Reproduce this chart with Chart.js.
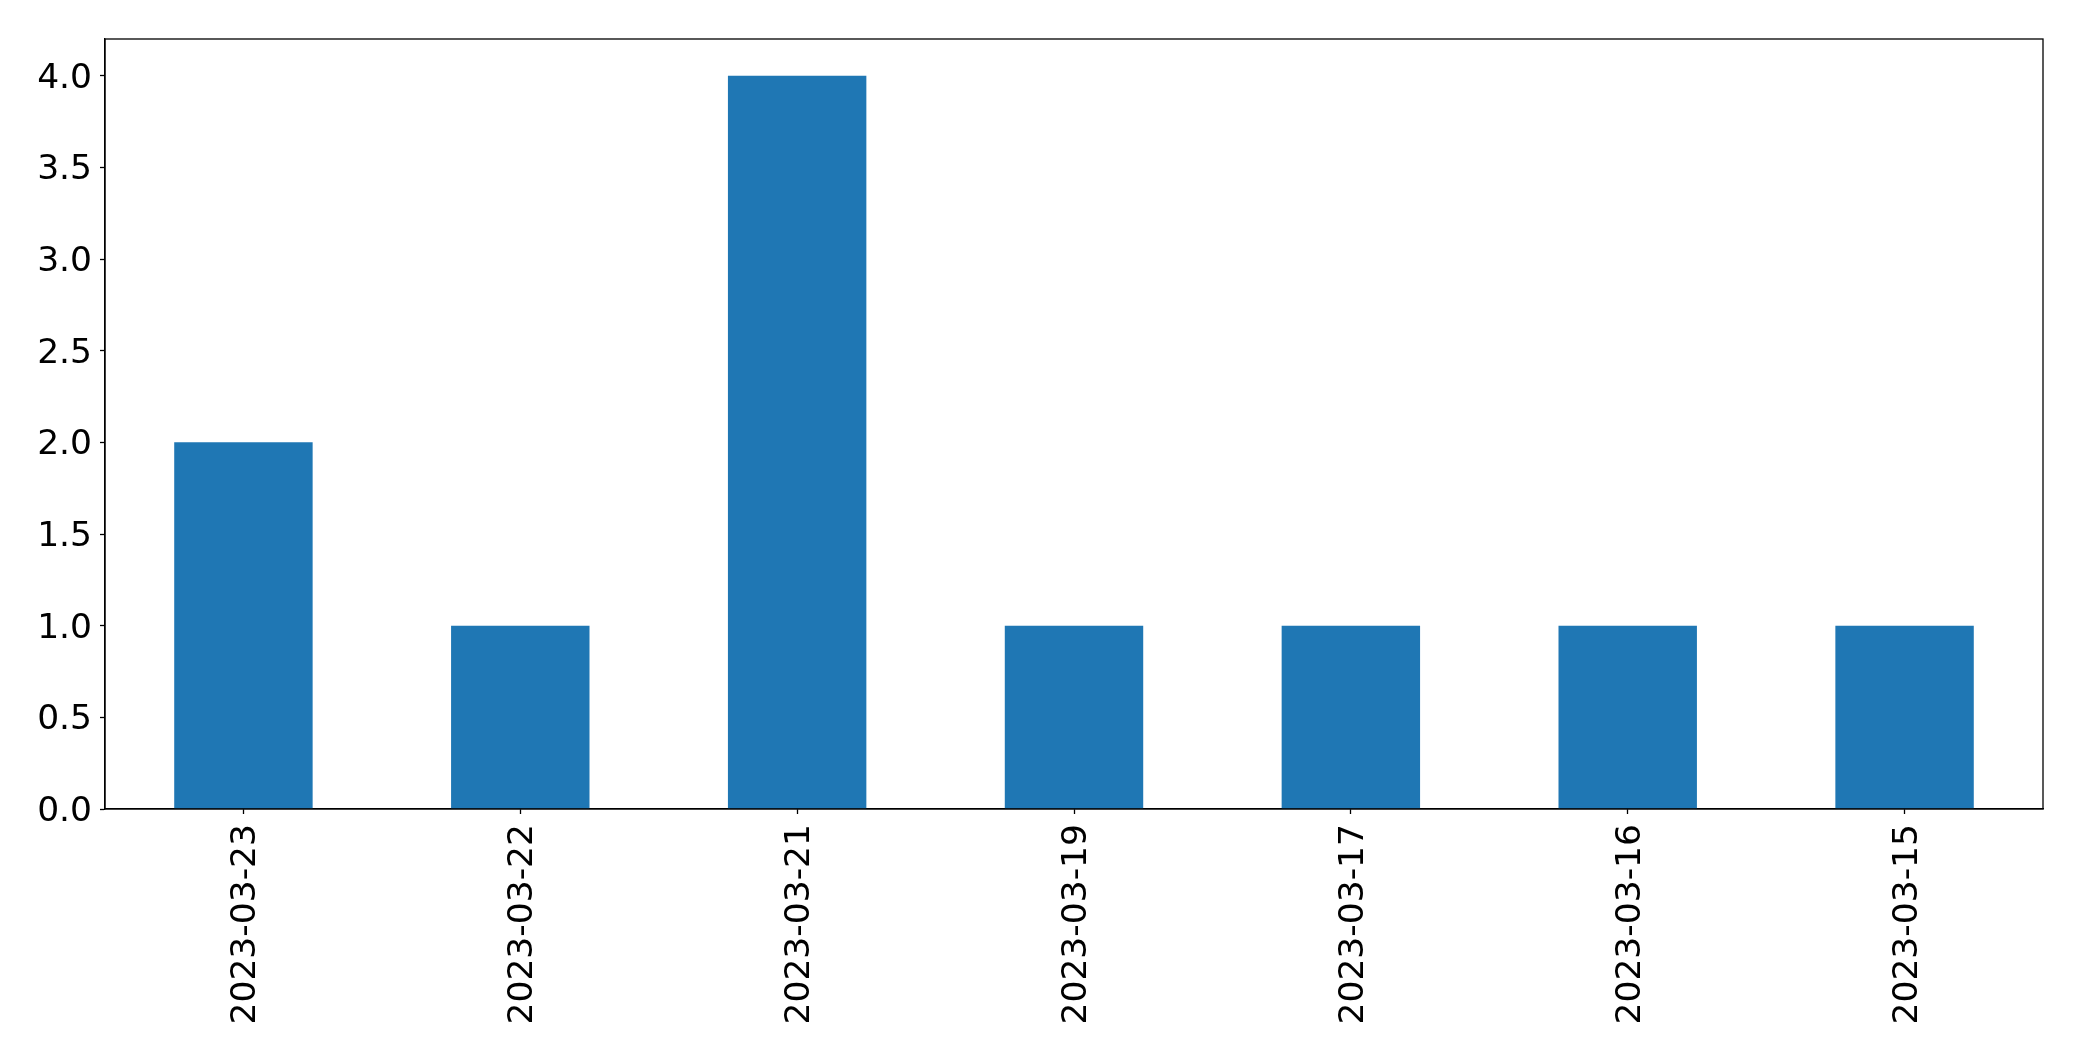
<!DOCTYPE html>
<html>
<head>
<meta charset="utf-8">
<script src="https://cdn.jsdelivr.net/npm/chart.js@4/dist/chart.umd.min.js"></script>
<style>
  html, body { margin: 0; padding: 0; background: #fff; }
  #wrap { width: 2082px; height: 1061px; }
</style>
</head>
<body>
<div id="wrap"><canvas id="c" width="2082" height="1061"></canvas></div>
<script>
const categories = ["2023-03-23", "2023-03-22", "2023-03-21", "2023-03-19", "2023-03-17", "2023-03-16", "2023-03-15"];
const counts = [2, 1, 4, 1, 1, 1, 1];
const yTicks = [0, 0.5, 1.0, 1.5, 2.0, 2.5, 3.0, 3.5, 4.0];

const frame = {
  id: 'frame',
  afterDraw(chart) {
    const a = chart.chartArea, ctx = chart.ctx;
    ctx.save();
    ctx.strokeStyle = '#000';
    ctx.lineWidth = 1.3;
    ctx.strokeRect(a.left, a.top, a.right - a.left, a.bottom - a.top);
    ctx.restore();
  }
};

const font = { family: 'DejaVu Sans', size: 34.5 };

new Chart(document.getElementById('c'), {
  type: 'bar',
  data: {
    labels: categories,
    datasets: [{
      data: counts,
      backgroundColor: '#1f77b4',
      borderWidth: 0,
      barPercentage: 0.5,
      categoryPercentage: 1.0
    }]
  },
  options: {
    responsive: false,
    animation: false,
    devicePixelRatio: 1,
    layout: { padding: { top: 39, right: 39, left: 0, bottom: 0 } },
    plugins: { legend: { display: false }, tooltip: { enabled: false } },
    scales: {
      x: {
        afterFit(s) { s.height = 252; },
        grid: { offset: false, drawOnChartArea: false, drawTicks: true, tickLength: 5, tickColor: '#000', tickWidth: 1.3 },
        border: { display: true, color: '#000', width: 1.3 },
        ticks: { color: '#000', font, minRotation: 90, maxRotation: 90, padding: 10, labelOffset: 3, autoSkip: false }
      },
      y: {
        min: 0,
        max: 4.2,
        afterFit(s) { s.width = 105; },
        afterBuildTicks(s) { s.ticks = yTicks.map(v => ({ value: v })); },
        grid: { drawOnChartArea: false, drawTicks: true, tickLength: 5, tickColor: '#000', tickWidth: 1.3 },
        border: { display: true, color: '#000', width: 1.3 },
        ticks: { color: '#000', font, padding: 8, labelOffset: 3, callback: v => Number(v).toFixed(1) }
      }
    }
  },
  plugins: [frame]
});
</script>
</body>
</html>
